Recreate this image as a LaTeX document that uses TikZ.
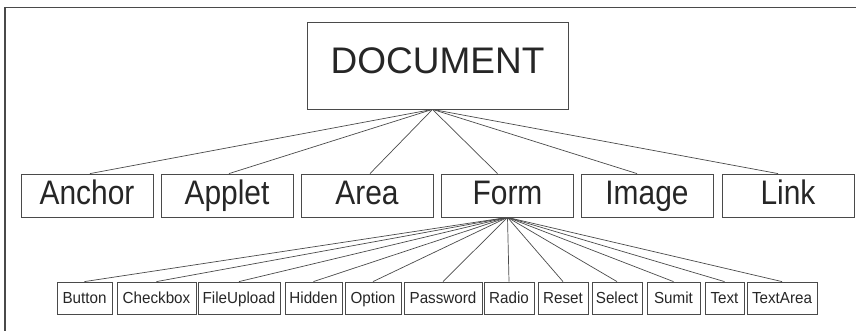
\documentclass[tikz,border=0pt]{standalone}
\usepackage{fontspec}
\setmainfont{Liberation Sans}
\newfontfamily\midfont[FakeStretch=0.88]{Liberation Sans}
\newfontfamily\smallfont[FakeStretch=0.95]{Liberation Sans}
\usepackage{tikz}
\definecolor{edge}{HTML}{4A4A4A}
\tikzset{
	box/.style 2 args={draw=edge,line width=0.8pt,inner sep=0pt,minimum width=#1,minimum height=#2,text=black!85},
	topbox/.style={box={261pt}{87pt},font=\fontsize{37}{40}\selectfont,text height=26.5pt,text depth=10pt},
	midbox/.style={box={132pt}{43pt},font=\midfont\fontsize{34}{36}\selectfont,text height=24.3pt,text depth=6pt},
	leaf/.style={box={#1}{32pt},font=\smallfont\fontsize{16}{18}\selectfont,text height=11.5pt,text depth=0pt},
	wire/.style={draw=edge,line width=0.7pt}
}

\begin{document}
\begin{tikzpicture}[x=1pt,y=1pt]
	\useasboundingbox (0,0) rectangle (856,331);
	\draw [edge,line width=1.2pt] (5,0) |- (856,323.5);

	\node [topbox] (document) at (437.5,265.5) {DOCUMENT};

	\node [midbox] (anchor) at (87,135.5) {Anchor};
	\node [midbox] (applet) at (227,135.5) {Applet};
	\node [midbox] (area) at (367,135.5) {Area};
	\node [midbox] (form) at (507.5,135.5) {Form};
	\node [midbox] (image) at (647,135.5) {Image};
	\node [midbox] (link) at (788,135.5) {Link};

	\node [leaf=55pt] (button) at (84.5,33) {Button};
	\node [leaf=79pt] (checkbox) at (156.5,33) {Checkbox};
	\node [leaf=82pt] (fileupload) at (239,33) {FileUpload};
	\node [leaf=57pt] (hidden) at (313.5,33) {Hidden};
	\node [leaf=56pt] (option) at (373,33) {Option};
	\node [leaf=78pt] (password) at (443,33) {Password};
	\node [leaf=50pt] (radio) at (509,33) {Radio};
	\node [leaf=50pt] (reset) at (563,33) {Reset};
	\node [leaf=50pt] (select) at (617,33) {Select};
	\node [leaf=53pt] (sumit) at (673.5,33) {Sumit};
	\node [leaf=39pt] (text) at (724.5,33) {Text};
	\node [leaf=70pt] (textarea) at (782,33) {TextArea};

	\foreach \n/\dx in {anchor/3,applet/2,area/3,form/-10,image/-10,link/-10}
		\draw [wire] ([xshift=-5pt]document.south) -- ([xshift=\dx pt]\n.north);
	\foreach \n in {button,checkbox,fileupload,hidden,option,password,radio,reset,select,sumit,text,textarea}
		\draw [wire] (form.south) -- (\n.north);
\end{tikzpicture}
\end{document}
